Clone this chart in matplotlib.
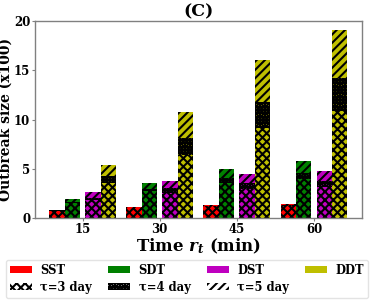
import matplotlib
matplotlib.use("Agg")
import matplotlib.pyplot as plt
import matplotlib.patches as mpatches
import numpy as np

plt.rcParams['font.family'] = ['DejaVu Serif']
plt.rcParams['font.weight'] = 'bold'
plt.rcParams['hatch.linewidth'] = 1.5
plt.rcParams['mathtext.fontset'] = 'custom'
plt.rcParams['mathtext.it'] = 'DejaVu Serif:italic:bold'
plt.rcParams['mathtext.rm'] = 'DejaVu Serif:bold'

times = [15, 30, 45, 60]
strategies = ["SST", "SDT", "DST", "DDT"]
colors = ["#ff0000", "#008000", "#bf00bf", "#bfbf00"]
offsets = [-5, -2, 2, 5]

# Outbreak size (x100) for tau = 3, 4, 5 days
tau3 = {
    "SST": [0.78, 1.05, 1.22, 1.30],
    "SDT": [1.55, 2.80, 3.55, 3.95],
    "DST": [1.85, 2.53, 2.94, 3.20],
    "DDT": [3.55, 6.45, 9.15, 10.90],
}
tau4 = {
    "SST": [0.82, 1.08, 1.27, 1.38],
    "SDT": [1.62, 3.00, 4.05, 4.62],
    "DST": [2.10, 3.10, 3.55, 3.78],
    "DDT": [4.30, 8.14, 11.80, 14.20],
}
tau5 = {
    "SST": [0.86, 1.12, 1.32, 1.42],
    "SDT": [1.95, 3.57, 4.96, 5.77],
    "DST": [2.63, 3.78, 4.45, 4.76],
    "DDT": [5.38, 10.72, 15.98, 19.10],
}
tau_labels = ["τ=3 day", "τ=4 day", "τ=5 day"]
hatches = ["xxxx", "ooooo", "////"]

fig = plt.figure(figsize=(3.74, 3.0), dpi=100)
ax = fig.add_axes([0.0936, 0.272, 0.873, 0.659])

x = np.array(times, dtype=float)
width = 3.0
for s, c, off in zip(strategies, colors, offsets):
    for data, h in [(tau5, hatches[2]), (tau4, hatches[1]), (tau3, hatches[0])]:
        ax.bar(x + off, data[s], width=width, color=c, edgecolor="k",
               linewidth=0, hatch=h)

ax.set_xlim(5.75, 69.25)
ax.set_ylim(0, 20)
ax.set_xticks(times)
ax.set_xticklabels([str(t) for t in times])
ax.set_yticks([0, 5, 10, 15, 20])
ax.tick_params(axis='both', labelsize=8.5, length=2, color='#808080', pad=1.5)
for lab in ax.get_xticklabels() + ax.get_yticklabels():
    lab.set_fontweight('bold')
for sp in ax.spines.values():
    sp.set_color('#808080')
    sp.set_linewidth(1.0)

ax.set_title("(C)", fontsize=12.5, fontweight='bold', pad=2)
ax.set_ylabel("Outbreak size (x100)", fontsize=10, fontweight='bold')
ax.yaxis.set_label_coords(-0.067, 0.5)
ax.set_xlabel("Time $r_t$ (min)", fontsize=12, fontweight='bold', labelpad=0)

color_handles = [mpatches.Patch(facecolor=c, edgecolor='none', label=s)
                 for s, c in zip(strategies, colors)]
hatch_handles = [mpatches.Patch(facecolor='none', edgecolor='k', linewidth=0,
                                hatch=h, label=l)
                 for h, l in zip(hatches, tau_labels)]
order = [color_handles[0], hatch_handles[0], color_handles[1], hatch_handles[1],
         color_handles[2], hatch_handles[2], color_handles[3]]
fig.legend(handles=order, labels=[h.get_label() for h in order],
           loc='lower center', bbox_to_anchor=(0.5, 0.007),
           ncol=4, prop={'weight': 'bold', 'size': 8.3},
           frameon=True, edgecolor='#dddddd', handlelength=1.9, handleheight=0.55,
           borderaxespad=0, borderpad=0.35, columnspacing=1.4,
           handletextpad=0.75, labelspacing=0.35)

fig.savefig("out.png", dpi=100)
